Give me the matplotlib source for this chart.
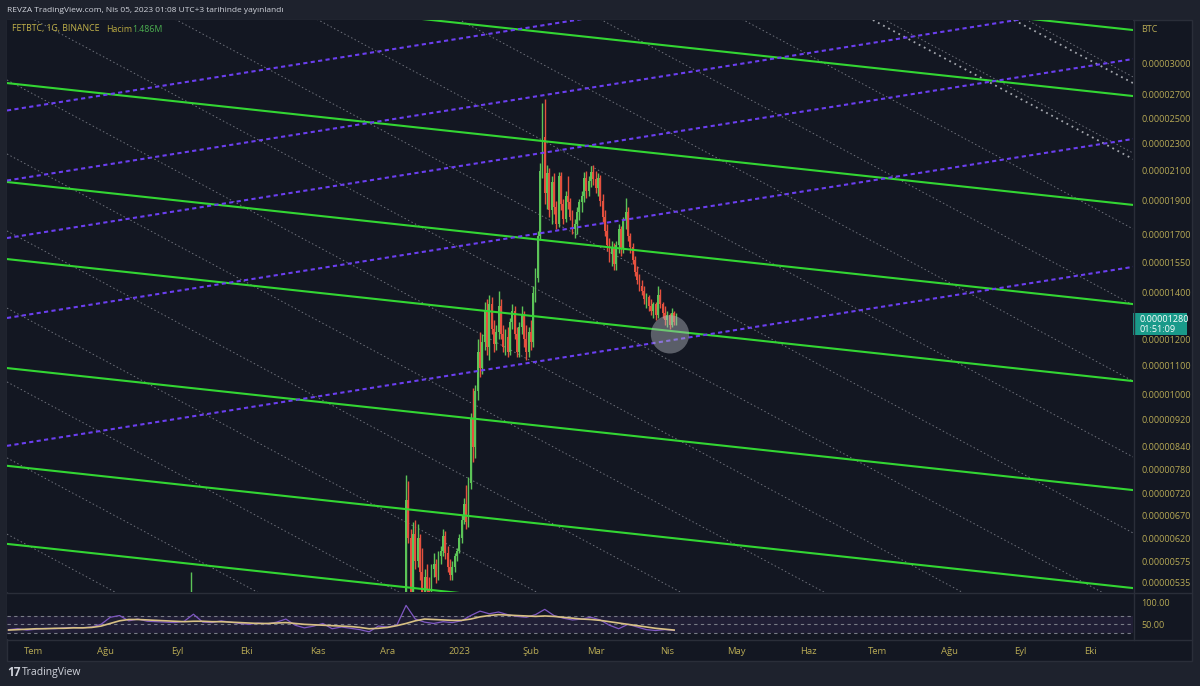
import matplotlib
matplotlib.use('Agg')
import matplotlib.pyplot as plt
import matplotlib.dates as mdates
from matplotlib.ticker import NullLocator
from matplotlib.patches import Rectangle
import pandas as pd

plt.rcParams['font.family'] = ['Open Sans', 'DejaVu Sans']

# ---------------- data (prices in units of 1e-6 BTC) ----------------
candle_start = '2022-12-09'
opens = [5.05, 7.05, 6.20, 5.20, 6.30, 5.75, 6.20, 5.55, 5.15, 5.45, 5.25, 5.05, 5.60, 5.70, 5.45, 5.85, 5.95, 6.25, 5.90, 5.65, 5.50, 5.65, 5.85,
         5.95, 6.20, 6.60, 6.95, 6.55, 7.45, 9.20, 8.40, 10.1, 11.5, 10.9, 11.9, 13.2, 11.7, 13.5, 12.4, 11.8, 12.3, 13.4, 12.2, 11.7, 12.1, 11.5, 12.7, 13.2, 12.2, 11.5, 12.5, 13.0, 12.0, 11.5,
         12.3, 11.9, 14.0, 14.7, 16.9, 21.0, 23.5, 19.5, 20.8, 18.4, 20.2, 18.6, 17.6, 20.6, 18.8, 17.9, 19.3, 18.9, 18.0, 17.3, 17.6, 18.3, 18.9, 19.3, 20.5, 19.6, 20.3, 20.9,
         20.4, 19.8, 20.5, 19.0, 18.0, 17.2, 16.4, 15.9, 16.3, 15.4, 16.4, 17.3, 16.2, 17.8, 18.3, 16.9, 16.3, 15.6, 15.0, 14.6, 14.3, 14.1, 13.7, 13.8, 13.4, 13.2, 13.5, 13.0, 13.9, 13.5, 13.1,
         12.8, 13.0, 12.6, 13.1, 12.7]
highs = [7.65, 7.50, 6.40, 6.55, 6.60, 6.50, 6.30, 6.00, 5.60, 5.70, 5.45, 5.70, 5.90, 5.80, 5.95, 6.05, 6.40, 6.35, 6.05, 5.80, 5.75, 5.90, 6.00,
         6.30, 6.70, 7.10, 7.40, 7.60, 9.40, 10.2, 10.3, 12.0, 12.3, 12.2, 13.6, 13.7, 13.9, 13.8, 12.8, 12.6, 14.1, 13.7, 12.6, 12.4, 12.5, 12.9, 13.5, 13.4, 12.5, 12.7, 13.4, 13.2, 12.6, 12.5,
         12.8, 14.3, 15.2, 17.2, 21.5, 26.3, 26.6, 21.4, 21.2, 20.6, 20.8, 19.0, 20.9, 20.9, 19.1, 19.6, 20.6, 19.2, 18.4, 17.9, 18.6, 19.1, 19.6, 20.9, 21.0, 20.6, 21.3, 21.4,
         21.0, 20.8, 20.7, 19.4, 18.4, 17.6, 16.8, 16.6, 16.5, 16.6, 17.6, 17.5, 18.0, 19.2, 18.6, 17.1, 16.5, 15.8, 15.3, 14.9, 14.6, 14.3, 14.0, 13.9, 13.7, 13.6, 13.6, 14.3, 14.2, 13.6, 13.4,
         13.2, 13.1, 13.3, 13.2, 13.1]
lows = [5.00, 6.10, 5.05, 5.10, 5.60, 5.65, 5.40, 5.05, 5.00, 5.15, 4.95, 5.00, 5.45, 5.35, 5.40, 5.70, 5.85, 5.80, 5.55, 5.40, 5.40, 5.55, 5.75,
        5.90, 6.10, 6.50, 6.40, 6.45, 7.30, 8.00, 8.10, 9.80, 10.6, 10.7, 11.6, 11.4, 11.2, 12.2, 11.5, 11.6, 12.0, 12.0, 11.5, 11.4, 11.3, 11.4, 12.4, 12.0, 11.3, 11.3, 12.2, 11.7, 11.2, 11.3,
        11.6, 11.7, 13.6, 14.5, 16.7, 20.5, 18.8, 18.5, 18.0, 17.6, 18.2, 17.3, 17.4, 18.4, 17.6, 17.7, 18.5, 17.8, 17.0, 16.8, 17.0, 17.8, 18.3, 18.9, 19.2, 19.3, 19.9, 20.0,
        19.5, 19.3, 18.7, 17.7, 16.9, 16.1, 15.5, 15.3, 15.1, 15.1, 16.0, 15.8, 16.0, 17.3, 16.6, 16.0, 15.4, 14.8, 14.4, 14.1, 13.9, 13.5, 13.3, 13.2, 13.0, 12.9, 12.8, 12.9, 13.3, 12.9, 12.6,
        12.5, 12.4, 12.5, 12.6, 12.6]
closes = [7.05, 6.20, 5.20, 6.30, 5.75, 6.20, 5.55, 5.15, 5.45, 5.25, 5.05, 5.60, 5.70, 5.45, 5.85, 5.95, 6.25, 5.90, 5.65, 5.50, 5.65, 5.85, 5.95,
          6.20, 6.60, 6.95, 6.55, 7.45, 9.20, 8.40, 10.1, 11.5, 10.9, 11.9, 13.2, 11.7, 13.5, 12.4, 11.8, 12.3, 13.4, 12.2, 11.7, 12.1, 11.5, 12.7, 13.2, 12.2, 11.5, 12.5, 13.0, 12.0, 11.5, 12.3,
          11.9, 14.0, 14.7, 16.9, 21.0, 23.5, 19.5, 20.8, 18.4, 20.2, 18.6, 17.6, 20.6, 18.8, 17.9, 19.3, 18.9, 18.0, 17.3, 17.6, 18.3, 18.9, 19.3, 20.5, 19.6, 20.3, 20.9, 20.4,
          19.8, 20.5, 19.0, 18.0, 17.2, 16.4, 15.9, 16.3, 15.4, 16.4, 17.3, 16.2, 17.8, 18.3, 16.9, 16.3, 15.6, 15.0, 14.6, 14.3, 14.1, 13.7, 13.8, 13.4, 13.2, 13.5, 13.0, 13.9, 13.5, 13.1, 12.8,
          13.0, 12.6, 13.1, 12.7, 12.8]

spike_date = '2022-09-07'
spike_ohlc = [4.70, 5.55, 4.60, 4.90]

price_ticks = [30.0, 27.0, 25.0, 23.0, 21.0, 19.0, 17.0, 15.5, 14.0, 12.0, 11.0,
               10.0, 9.2, 8.4, 7.8, 7.2, 6.7, 6.2, 5.75, 5.35]

view_start = '2022-06-19 07:40'
view_end = '2023-10-19 13:12'
price_min, price_max = 5.192, 34.60

green_left = [50.15, 40.30, 28.07, 20.22, 15.66, 10.91, 7.89, 6.09]
green_right = [33.47, 26.89, 18.74, 13.49, 10.45, 7.28, 5.26, 4.06]
purple_left = [25.63, 20.32, 16.79, 12.88, 8.43]
purple_right = [46.40, 36.79, 30.40, 23.32, 15.26]
gray_left = [6.29, 8.10, 10.42, 13.31, 17.19, 22.19, 28.36, 36.36, 46.78, 60.19, 77.44, 99.63, 128.2, 164.9, 212.2]
gray_right = [0.849, 1.094, 1.407, 1.797, 2.321, 2.996, 3.829, 4.909, 6.315, 8.126, 10.45, 13.45, 17.31, 22.26, 28.65]
white_start = ['2023-06-29', '2023-08-29']
white_start_price = [34.6, 34.6]
white_end_price = [21.82, 28.07]

highlight_date = '2023-04-02 05:00'
highlight_price = 12.2

rsi_start = '2022-06-20'
rsi_values = [38, 40, 37, 39, 41, 40, 42, 43, 42, 44, 50, 66, 70, 58, 62, 57, 56, 55, 54, 57,
              73, 55, 54, 58, 55, 52, 50, 53, 51, 55, 62, 48, 42, 46, 52, 40, 44, 41, 38, 33,
              46, 44, 48, 93, 62, 55, 52, 56, 54, 58, 70, 80, 74, 78, 72, 68, 66, 72, 84, 70,
              64, 60, 62, 66, 60, 48, 40, 50, 44, 38, 36, 38, 36]
rsi_ma = [37, 38, 39, 40, 40, 41, 41, 42, 42, 43, 46, 52, 58, 61, 61, 60, 59, 58, 57, 56,
          57, 57, 56, 56, 55, 54, 53, 52, 52, 53, 54, 52, 50, 49, 48, 47, 46, 45, 43, 40,
          41, 43, 47, 52, 58, 62, 61, 60, 59, 59, 62, 67, 70, 72, 71, 70, 69, 68, 69, 68,
          66, 64, 62, 61, 59, 56, 53, 50, 47, 44, 41, 39, 37]

month_labels = ['Tem', 'Ağu', 'Eyl', 'Eki', 'Kas', 'Ara', '2023', 'Şub', 'Mar', 'Nis',
                'May', 'Haz', 'Tem', 'Ağu', 'Eyl', 'Eki']

# ---------------- styling ----------------
W, H = 1200, 686
OUTER = '#1e222d'
PANEL = '#131722'
SEP = '#2a2e39'
LABEL = '#b8aa55'
UP = '#5cc458'
DOWN = '#e4503e'
GREEN_LINE = '#33d633'
PURPLE = '#6b3ff0'
FS = 6.5

fig = plt.figure(figsize=(12, 6.86), dpi=100)
fig.patch.set_facecolor(OUTER)


def px_axes(x0, y0, x1, y1, **kw):
    return fig.add_axes([x0 / W, 1 - y1 / H, (x1 - x0) / W, (y1 - y0) / H], **kw)


# background panel
bg = px_axes(0, 0, W, H, zorder=0)
bg.set_xlim(0, W)
bg.set_ylim(H, 0)
bg.axis('off')
bg.add_patch(Rectangle((7, 20), 1185, 641, facecolor=PANEL, edgecolor=SEP, lw=1))

dn = mdates.date2num
x_left, x_right = dn(pd.Timestamp(view_start)), dn(pd.Timestamp(view_end))

# ---------------- main price axes ----------------
ax = px_axes(7, 20, 1133, 592, zorder=2)
ax.set_facecolor(PANEL)
ax.set_yscale('log')
ax.set_xlim(x_left, x_right)
ax.set_ylim(price_min * 1e-6, price_max * 1e-6)
for s in ax.spines.values():
    s.set_visible(False)

# gray thin dotted parallel lines
for l, r in zip(gray_left, gray_right):
    ax.plot([x_left, x_right], [l * 1e-6, r * 1e-6], color='#6f727c', lw=0.7,
            ls=(0, (1.5, 2.5)), zorder=1)

# candles
dates = pd.date_range(candle_start, periods=len(closes), freq='D')
xd = dn(dates)
cols = [UP if c >= o else DOWN for o, c in zip(opens, closes)]
ax.vlines(xd, [v * 1e-6 for v in lows], [v * 1e-6 for v in highs], colors=cols, lw=1.0, zorder=3)
ax.bar(xd, [max(abs(c - o), 0.03) * 1e-6 for o, c in zip(opens, closes)],
       bottom=[min(o, c) * 1e-6 for o, c in zip(opens, closes)],
       width=0.78, color=cols, zorder=3, linewidth=0)
sx = dn(pd.Timestamp(spike_date))
ax.vlines([sx], [spike_ohlc[2] * 1e-6], [spike_ohlc[1] * 1e-6], colors=UP, lw=1.0, zorder=3)

# green channel lines
for l, r in zip(green_left, green_right):
    ax.plot([x_left, x_right], [l * 1e-6, r * 1e-6], color=GREEN_LINE, lw=1.5, zorder=5)

# purple dotted lines
for l, r in zip(purple_left, purple_right):
    ax.plot([x_left, x_right], [l * 1e-6, r * 1e-6], color=PURPLE, lw=1.5,
            ls=(0, (2, 1.6)), zorder=5)

# coarse white dotted lines top-right
for sd, sp, ep in zip(white_start, white_start_price, white_end_price):
    ax.plot([dn(pd.Timestamp(sd)), x_right], [sp * 1e-6, ep * 1e-6], color='#a3a6ad',
            lw=1.3, ls=(0, (1, 2.2)), zorder=4)

# highlight circle
ax.scatter([dn(pd.Timestamp(highlight_date))], [highlight_price * 1e-6], s=760,
           color='#b2b5be', alpha=0.45, edgecolors='none', zorder=6)

ax.yaxis.set_minor_locator(NullLocator())
ax.set_yticks([v * 1e-6 for v in price_ticks])
ax.set_yticklabels(['%.8f' % (v * 1e-6) for v in price_ticks])
ax.yaxis.tick_right()
ax.tick_params(axis='y', length=0, pad=6, labelcolor=LABEL, labelsize=FS)
ax.set_xticks([])

# ---------------- RSI panel ----------------
rx = px_axes(7, 594, 1133, 639, zorder=2)
rx.set_facecolor(PANEL)
rx.set_xlim(x_left, x_right)
rx.set_ylim(16.7, 118.9)
for s in rx.spines.values():
    s.set_visible(False)
rx.axhspan(30, 70, color='#7e57c2', alpha=0.12, lw=0)
for lvl in (70, 50, 30):
    rx.axhline(lvl, color='#787b86', lw=0.8, ls=(0, (3, 3)))
rdates = dn(pd.date_range(rsi_start, periods=len(rsi_values), freq='4D'))
rx.plot(rdates, rsi_values, color='#7e57c2', lw=0.9, zorder=3)
rx.plot(rdates, rsi_ma, color='#d8c184', lw=1.2, zorder=4)
rx.yaxis.tick_right()
rx.set_yticks([100, 50])
rx.set_yticklabels(['100.00', '50.00'])
rx.tick_params(axis='y', length=0, pad=6, labelcolor=LABEL, labelsize=FS)
month_ticks = dn(pd.date_range('2022-07-01', periods=len(month_labels), freq='MS'))
rx.set_xticks(month_ticks)
rx.set_xticklabels(month_labels)
rx.tick_params(axis='x', length=0, pad=6, labelcolor=LABEL, labelsize=6.8)

# ---------------- overlay texts ----------------
ov = px_axes(0, 0, W, H, zorder=10)
ov.set_xlim(0, W)
ov.set_ylim(H, 0)
ov.axis('off')
ov.patch.set_alpha(0)

# separators
ov.plot([7, 1192], [593, 593], color=SEP, lw=1)
ov.plot([7, 1192], [640, 640], color=SEP, lw=1)
ov.plot([1133.5, 1133.5], [20, 640], color=SEP, lw=1)

ov.text(7, 10, 'REVZA TradingView.com, Nis 05, 2023 01:08 UTC+3 tarihinde yayınlandı',
        color='#d1d4dc', fontsize=6.0, va='center', ha='left')

fig.canvas.draw()
rend = fig.canvas.get_renderer()
inv = ov.transData.inverted()
t1 = ov.text(12.5, 29, 'FETBTC, 1G, BINANCE', color='#c2b24a', fontsize=6.3, va='center', ha='left')
bb = inv.transform(t1.get_window_extent(rend))
t2 = ov.text(bb[1][0] + 6, 29, 'Hacim', color='#b8a840', fontsize=6.3, va='center', ha='left')
bb2 = inv.transform(t2.get_window_extent(rend))
ov.text(bb2[1][0] + 0.5, 29, '1.486M', color='#4caf50', fontsize=6.3, va='center', ha='left')

ov.text(1141, 29, 'BTC', color=LABEL, fontsize=FS, va='center', ha='left')

# current price box
ov.add_patch(Rectangle((1133, 313), 54, 22, facecolor='#1a9a8a', edgecolor='none'))
ov.text(1140, 319.5, '0.00001280', color='white', fontsize=FS, va='center', ha='left')
ov.text(1140, 329.5, '01:51:09', color='white', fontsize=FS, va='center', ha='left')

# logo
ov.text(7, 672, '17', color='#d1d4dc', fontsize=8.5, fontweight='bold', va='center', ha='left')
ov.text(22, 672, 'TradingView', color='#d1d4dc', fontsize=7.5, va='center', ha='left')

fig.savefig('out.png', dpi=100, facecolor=fig.get_facecolor())
